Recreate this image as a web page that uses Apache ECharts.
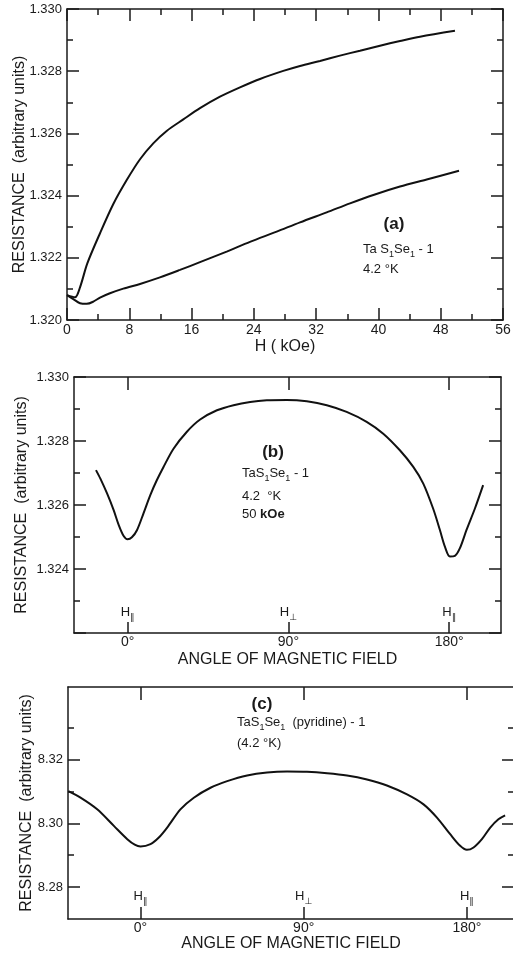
<!DOCTYPE html>
<html><head><meta charset="utf-8">
<script src="https://cdn.jsdelivr.net/npm/echarts@6/dist/echarts.min.js"></script>
<style>html,body{margin:0;padding:0;background:#fff}#c{width:513px;height:956px}</style>
</head><body><div id="c"></div>
<script>
// ---------- Panel (a): resistance vs field ----------
const aFieldUpper = [0, 1.03, 1.67, 2.61, 4.24, 5.95, 7.67, 9.38, 11.08, 12.8, 14.94, 17.08, 19.65, 22.22, 24.79, 27.78, 29.93, 32.5, 35.06, 37.63, 40.2, 42.77, 45.34, 49.83];
const aResUpper   = [1.32080, 1.32073, 1.32105, 1.32182, 1.32279, 1.32373, 1.32450, 1.32517, 1.32568, 1.32608, 1.32645, 1.32681, 1.32718, 1.32748, 1.32775, 1.32801, 1.32817, 1.32833, 1.32850, 1.32866, 1.32882, 1.32897, 1.32911, 1.32930];
const aFieldLower = [0, 0.81, 1.67, 2.53, 3.38, 4.24, 5.52, 7.23, 9.38, 11.94, 14.51, 17.08, 20.51, 23.5, 26.93, 29.93, 33.35, 36.35, 39.35, 42.77, 46.2, 50.35];
const aResLower   = [1.32080, 1.32067, 1.32054, 1.32052, 1.32059, 1.32072, 1.32086, 1.32101, 1.32116, 1.32137, 1.32161, 1.32186, 1.32220, 1.32251, 1.32284, 1.32314, 1.32346, 1.32375, 1.32402, 1.32429, 1.32452, 1.32480];

// ---------- Panel (b): resistance vs angle, 50 kOe ----------
const bAngle = [-17.7, -15.3, -11.5, -7.8, -5.0, -2.2, 0, 2.4, 5.3, 8.9, 12.7, 16.4, 20.1, 25.7, 33.2, 40.6, 50, 59.3, 68.6, 77.9, 89.1, 100.3, 111.5, 122.6, 133.8, 143.1, 152.4, 159.9, 165.5, 171, 174.8, 177.6, 180.4, 183.2, 186, 189.7, 194.4, 199];
const bRes   = [1.32709, 1.32683, 1.32636, 1.32584, 1.32538, 1.32503, 1.32493, 1.32499, 1.32522, 1.32574, 1.32631, 1.32678, 1.32719, 1.32776, 1.32829, 1.32867, 1.32896, 1.32912, 1.32922, 1.32927, 1.32928, 1.32924, 1.32912, 1.32891, 1.32860, 1.32823, 1.32771, 1.32719, 1.32667, 1.32589, 1.32522, 1.32470, 1.32439, 1.32441, 1.32465, 1.32522, 1.32589, 1.32662];

// ---------- Panel (c): pyridine intercalate ----------
const cAngle = [-39.8, -33.1, -23.9, -14.7, -7.3, -3.2, 0, 5.5, 10.1, 14.7, 22.0, 29.4, 38.6, 47.8, 58.8, 69.8, 80.8, 91.8, 102.9, 113.9, 124.9, 135.9, 147, 156.1, 163.5, 170.8, 176.3, 180, 183.7, 188.3, 192.9, 197.4, 201.1];
const cRes   = [8.31007, 8.30801, 8.30436, 8.29917, 8.29501, 8.29330, 8.29273, 8.29345, 8.29553, 8.29865, 8.30436, 8.30801, 8.31113, 8.31319, 8.31497, 8.31590, 8.31621, 8.31612, 8.31568, 8.31497, 8.31372, 8.31185, 8.30904, 8.30592, 8.30178, 8.29657, 8.29293, 8.29168, 8.29242, 8.29501, 8.29865, 8.30125, 8.30249];

// ---------- tick / label lists ----------
const angleTicks = [0, 90, 180];
const angleMarks = ['∥', '⊥', '∥'];
const bYLabels = [1.324, 1.326, 1.328, 1.330];
const cYMajor = [8.28, 8.30, 8.32];
const cYMinor = [8.29, 8.31, 8.33];

const INK = '#1a1a1a';
const FONT = 'Liberation Sans';
const line = {color: INK, width: 1.5};

function pairs(xs, ys) { return xs.map((x, i) => [x, ys[i]]); }

function xAx(o) {
  return Object.assign({
    type: 'value', splitLine: {show: false}, nameMoveOverlap: false,
    axisLine: {show: true, lineStyle: line, onZero: false},
    axisTick: {show: true, inside: true, length: 12, lineStyle: line},
    axisLabel: {show: false, color: INK, fontFamily: FONT, fontSize: 14, margin: 3},
    nameTextStyle: {color: INK, fontFamily: FONT, fontSize: 16}
  }, o);
}
function yAx(o) {
  return Object.assign({
    type: 'value', splitLine: {show: false}, nameMoveOverlap: false,
    axisLine: {show: true, lineStyle: line, onZero: false},
    axisTick: {show: true, inside: true, length: 12, lineStyle: line},
    axisLabel: {show: false, color: INK, fontFamily: FONT, fontSize: 13, margin: 5},
    nameTextStyle: {color: INK, fontFamily: FONT, fontSize: 16}
  }, o);
}
const minor = {show: true, splitNumber: 2, length: 6, lineStyle: line};
const hidden = {show: false, onZero: false};
const hRich = {
  h: {fontSize: 13, lineHeight: 13, verticalAlign: 'top', color: INK, fontFamily: FONT},
  s: {fontSize: 9, lineHeight: 16, verticalAlign: 'bottom', color: INK, fontFamily: 'DejaVu Sans'}
};
const hFmt = v => '{h|H}{s|' + angleMarks[angleTicks.indexOf(Math.round(v))] + '}';
const yName = 'RESISTANCE  (arbitrary units)';

const xAxis = [
  // (a)
  xAx({gridIndex: 0, position: 'bottom', min: 0, max: 56, interval: 8, minorTick: minor,
       axisLabel: {show: true, color: INK, fontFamily: FONT, fontSize: 14, margin: 3},
       name: 'H ( kOe)', nameLocation: 'middle', nameGap: 19}),
  xAx({gridIndex: 0, position: 'top', min: 0, max: 56, interval: 8, minorTick: minor}),
  // (b)
  xAx({gridIndex: 1, position: 'bottom', min: -30, max: 209,
       axisTick: {show: true, inside: true, length: 11, lineStyle: line, customValues: angleTicks},
       axisLabel: {show: true, color: INK, fontFamily: FONT, fontSize: 14, margin: 2, customValues: angleTicks, formatter: v => Math.round(v) + '°'},
       name: 'ANGLE OF MAGNETIC FIELD', nameLocation: 'middle', nameGap: 19}),
  xAx({gridIndex: 1, position: 'top', min: -30, max: 209,
       axisTick: {show: true, inside: true, length: 13, lineStyle: line, customValues: angleTicks}}),
  xAx({gridIndex: 1, position: 'bottom', min: -30, max: 209, axisLine: hidden, axisTick: {show: false},
       axisLabel: {show: true, inside: true, margin: 11, customValues: angleTicks, formatter: hFmt, rich: hRich}}),
  // (c)
  xAx({gridIndex: 2, position: 'bottom', min: -40, max: 206,
       axisTick: {show: true, inside: true, length: 12, lineStyle: line, customValues: angleTicks},
       axisLabel: {show: true, color: INK, fontFamily: FONT, fontSize: 14, margin: 2, customValues: angleTicks, formatter: v => Math.round(v) + '°'},
       name: 'ANGLE OF MAGNETIC FIELD', nameLocation: 'middle', nameGap: 17}),
  xAx({gridIndex: 2, position: 'top', min: -40, max: 206,
       axisTick: {show: true, inside: true, length: 13, lineStyle: line, customValues: angleTicks}}),
  xAx({gridIndex: 2, position: 'bottom', min: -40, max: 206, axisLine: hidden, axisTick: {show: false},
       axisLabel: {show: true, inside: true, margin: 13, customValues: angleTicks, formatter: hFmt, rich: hRich}})
];

const yAxis = [
  // (a)
  yAx({gridIndex: 0, position: 'left', min: 1.320, max: 1.330, interval: 0.002, minorTick: minor,
       axisLabel: {show: true, color: INK, fontFamily: FONT, fontSize: 13, margin: 5, formatter: v => v.toFixed(3)},
       name: yName, nameLocation: 'middle', nameRotate: 90, nameGap: 39}),
  yAx({gridIndex: 0, position: 'right', min: 1.320, max: 1.330, interval: 0.002, minorTick: minor}),
  // (b)
  yAx({gridIndex: 1, position: 'left', min: 1.322, max: 1.330, interval: 0.002, minorTick: minor,
       axisLabel: {show: true, color: INK, fontFamily: FONT, fontSize: 13, margin: 5, customValues: bYLabels, formatter: v => v.toFixed(3)},
       name: yName, nameLocation: 'middle', nameRotate: 90, nameGap: 44}),
  yAx({gridIndex: 1, position: 'right', min: 1.322, max: 1.330, interval: 0.002, minorTick: minor}),
  // (c)
  yAx({gridIndex: 2, position: 'left', min: 8.27, max: 8.3427,
       axisTick: {show: true, inside: true, length: 12, lineStyle: line, customValues: cYMajor},
       axisLabel: {show: true, color: INK, fontFamily: FONT, fontSize: 13, margin: 5, customValues: cYMajor, formatter: v => v.toFixed(2)},
       name: yName, nameLocation: 'middle', nameRotate: 90, nameGap: 33}),
  yAx({gridIndex: 2, position: 'right', min: 8.27, max: 8.3427,
       axisTick: {show: true, inside: true, length: 12, lineStyle: line, customValues: cYMajor}}),
  yAx({gridIndex: 2, position: 'left', min: 8.27, max: 8.3427, axisLine: hidden,
       axisTick: {show: true, inside: true, length: 6, lineStyle: line, customValues: cYMinor}}),
  yAx({gridIndex: 2, position: 'right', min: 8.27, max: 8.3427, axisLine: hidden,
       axisTick: {show: true, inside: true, length: 6, lineStyle: line, customValues: cYMinor}})
];

function curve(xi, yi, data) {
  return {type: 'line', xAxisIndex: xi, yAxisIndex: yi, data: data, showSymbol: false, smooth: 0.3,
          lineStyle: {color: '#111', width: 2}, silent: true};
}

const txtRich = {
  t: {fontSize: 13, lineHeight: 13, verticalAlign: 'top', fill: INK, fontFamily: FONT},
  s: {fontSize: 9, lineHeight: 16, verticalAlign: 'bottom', fill: INK, fontFamily: FONT},
  b: {fontSize: 13, lineHeight: 13, verticalAlign: 'top', fill: INK, fontFamily: FONT, fontWeight: 'bold'}
};
function note(x, yCenter, text) {
  return {type: 'text', x: x, y: yCenter - 7, style: {text: text, rich: txtRich, align: 'left', verticalAlign: 'top', fill: INK, font: '13px ' + FONT}};
}
function tag(x, yCenter, text) {
  return {type: 'text', x: x, y: yCenter, style: {text: text, align: 'center', verticalAlign: 'middle', fill: INK, font: 'bold 17px ' + FONT}};
}

const graphic = [
  tag(394, 224, '(a)'),
  note(363, 250, '{t|Ta S}{s|1}{t|Se}{s|1}{t| - 1}'),
  note(363, 270, '{t|4.2 °K}'),
  tag(273, 452, '(b)'),
  note(242, 474, '{t|TaS}{s|1}{t|Se}{s|1}{t| - 1}'),
  note(242, 497, '{t|4.2  °K}'),
  note(242, 515, '{t|50 }{b|kOe}'),
  tag(262, 704, '(c)'),
  note(237, 723, '{t|TaS}{s|1}{t|Se}{s|1}{t|  (pyridine) - 1}'),
  note(237, 744, '{t|(4.2 °K)}')
];

const chart = echarts.init(document.getElementById('c'), null, {renderer: 'canvas'});
chart.setOption({
  animation: false,
  backgroundColor: '#fff',
  grid: [
    {left: 67, right: 10, top: 9, bottom: 636, containLabel: false, outerBoundsMode: 'none'},
    {left: 74, right: 12, top: 377, bottom: 323, containLabel: false, outerBoundsMode: 'none'},
    {left: 68, right: -1, top: 687, bottom: 37, containLabel: false, outerBoundsMode: 'none'}
  ],
  xAxis: xAxis,
  yAxis: yAxis,
  series: [
    curve(0, 0, pairs(aFieldUpper, aResUpper)),
    curve(0, 0, pairs(aFieldLower, aResLower)),
    curve(2, 2, pairs(bAngle, bRes)),
    curve(5, 4, pairs(cAngle, cRes))
  ],
  graphic: graphic
});
</script>
</body></html>
